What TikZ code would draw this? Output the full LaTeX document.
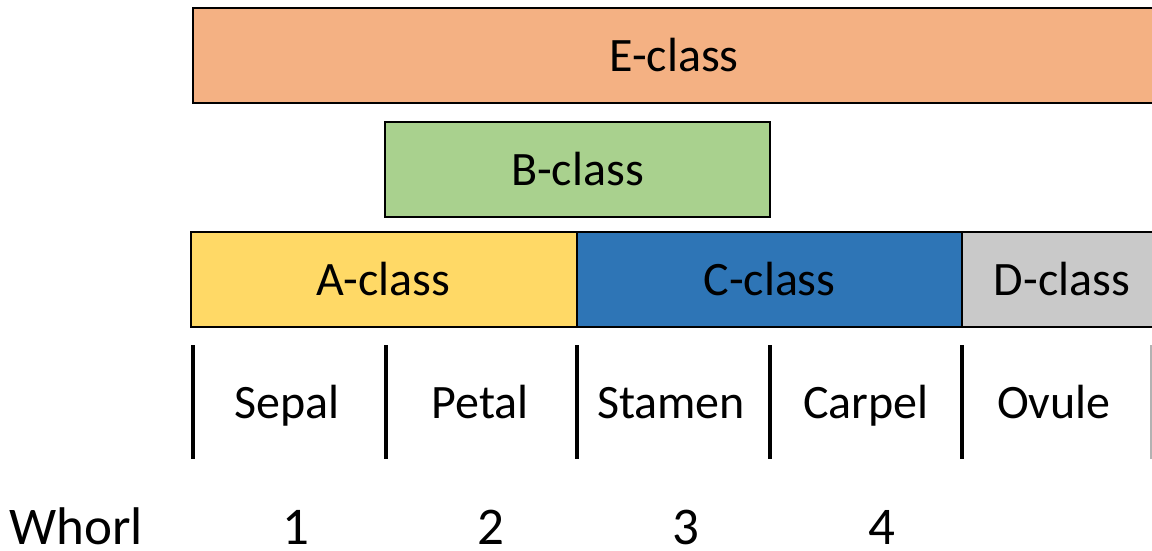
\documentclass[tikz,border=0pt]{standalone}
\usepackage{fontspec}
\setmainfont{Carlito}
\definecolor{eclr}{HTML}{F4B183}
\definecolor{bclr}{HTML}{A9D18E}
\definecolor{aclr}{HTML}{FFD966}
\definecolor{cclr}{HTML}{2E75B6}
\definecolor{dclr}{HTML}{C9C9C9}
\begin{document}
\begin{tikzpicture}[x=1pt,y=-1pt,
  classbox/.style={draw=black,line width=2pt,inner sep=0pt,minimum height=95pt,font=\fontsize{48}{58}\selectfont},
  lbl/.style={inner sep=0pt,anchor=base,font=\fontsize{48}{58}\selectfont},
  wlbl/.style={inner sep=0pt,anchor=base,font=\fontsize{53}{60}\selectfont},
  divider/.style={line width=3.5pt,black}]
\useasboundingbox (0,0) rectangle (1152,550);
\clip (0,0) rectangle (1152,550);
\node[classbox,fill=eclr,minimum width=962pt] (E) at (674,55.5) {E-class};
\node[classbox,fill=bclr,minimum width=385pt] (B) at (577.5,169.5) {B-class};
\node[classbox,fill=aclr,minimum width=386pt] (A) at (383.5,279) {A-class};
\node[classbox,fill=cclr,minimum width=385pt] (C) at (769.5,279) {C-class};
\node[classbox,fill=dclr,minimum width=200pt] (D) at (1062,279) {D-class};
\foreach \x in {193,386,577,770,962}{
  \draw[divider] (\x,345) -- (\x,459);
}
\draw[line width=3pt,gray!60] (1151.5,345) -- (1151.5,459);
\node[lbl] (sepal) at (287,418) {Sepal};
\node[lbl] (petal) at (480,418) {Petal};
\node[lbl] (stamen) at (671,418) {Stamen};
\node[lbl] (carpel) at (866,418) {Carpel};
\node[lbl] (ovule) at (1054,418) {Ovule};
\node[wlbl,anchor=base west] (whorl) at (9,544) {Whorl};
\node[wlbl] (w1) at (296,544) {1};
\node[wlbl] (w2) at (491,544) {2};
\node[wlbl] (w3) at (686,544) {3};
\node[wlbl] (w4) at (882,544) {4};
\end{tikzpicture}
\end{document}
